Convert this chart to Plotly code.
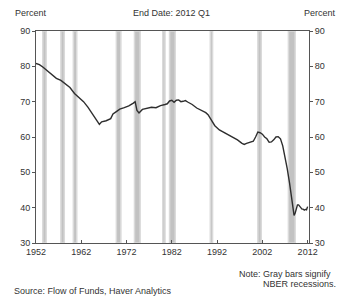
import plotly.graph_objects as go

years = [1952.0, 1952.75, 1953.5, 1954.5, 1955.5, 1956.5, 1957.5, 1958.5, 1959.5, 1960.5,
         1961.5, 1962.5, 1963.5, 1964.5, 1965.5, 1966.0, 1966.5, 1967.5, 1968.5, 1969.0,
         1969.75, 1970.5, 1971.5, 1972.5, 1973.5, 1973.9, 1974.3, 1974.75, 1975.5, 1976.5,
         1977.5, 1978.5, 1979.5, 1980.5, 1981.0, 1981.5, 1982.0, 1982.5, 1983.0, 1983.5,
         1984.0, 1984.5, 1985.0, 1985.5, 1986.5, 1987.5, 1988.5, 1989.5, 1990.0, 1990.75,
         1991.5, 1992.5, 1993.5, 1994.5, 1995.5, 1996.5, 1997.5, 1998.0, 1998.5, 1999.5,
         2000.0, 2000.5, 2001.0, 2001.5, 2002.0, 2002.5, 2003.0, 2003.5, 2004.0, 2004.5,
         2005.0, 2005.5, 2006.0, 2006.5, 2007.0, 2007.5, 2008.0, 2008.5, 2008.75, 2009.0,
         2009.25, 2009.5, 2009.75, 2010.0, 2010.25, 2010.5, 2010.75, 2011.0, 2011.25, 2011.5,
         2011.75, 2012.0]
equity = [80.8, 80.5, 79.8, 78.8, 77.6, 76.6, 76.0, 75.0, 74.0, 72.3,
          71.2, 70.0, 68.4, 66.5, 64.6, 63.6, 64.3, 64.6, 65.2, 66.5,
          67.2, 67.9, 68.3, 68.8, 69.6, 70.0, 67.5, 66.8, 67.8, 68.0,
          68.4, 68.3, 68.9, 69.2, 69.4, 70.2, 70.4, 69.8, 70.4, 70.5,
          70.0, 70.1, 70.3, 69.9, 69.2, 68.2, 67.5, 66.9, 66.3, 64.8,
          63.2, 62.0, 61.3, 60.6, 59.8, 59.2, 58.2, 57.9, 58.2, 58.5,
          58.8, 60.0, 61.4, 61.2, 60.8, 60.0, 59.5, 58.5, 58.6, 59.2,
          60.0, 60.1, 59.5, 57.5, 54.5, 51.0, 47.0, 42.0, 39.5, 37.8,
          38.5, 40.0, 40.8, 40.8, 40.3, 39.8, 39.6, 39.6, 39.3, 39.5,
          39.4, 40.3]

rec_start = [1953.5, 1957.5, 1960.25, 1969.75, 1973.75, 1980.0, 1981.5, 1990.5, 2001.0, 2007.75]
rec_end = [1954.25, 1958.25, 1961.0, 1970.75, 1975.0, 1980.5, 1982.75, 1991.0, 2001.75, 2009.25]

tick_years = [1952, 1962, 1972, 1982, 1992, 2002, 2012]
y_ticks = [30, 40, 50, 60, 70, 80, 90]

FONT = "Liberation Sans, Arial, sans-serif"

fig = go.Figure()
fig.add_trace(go.Scatter(x=years, y=equity, mode="lines",
                         line=dict(color="#2e2e2e", width=1.4), showlegend=False))
fig.add_trace(go.Scatter(x=years, y=equity, mode="lines", yaxis="y2",
                         line=dict(color="rgba(0,0,0,0)", width=0), showlegend=False,
                         hoverinfo="skip"))

for s, e in zip(rec_start, rec_end):
    fig.add_shape(type="rect", xref="x", yref="paper", x0=s, x1=e, y0=0, y1=1,
                  fillcolor="#c2c2c2", line=dict(width=1.5, color="#dadada"), layer="below")

fig.update_layout(
    width=337, height=300,
    margin=dict(l=36, r=24, t=31, b=57),
    paper_bgcolor="white", plot_bgcolor="white",
    font=dict(family=FONT, size=9, color="#333333"),
    xaxis=dict(range=[1952, 2012.3], tickvals=tick_years, ticktext=[str(t) for t in tick_years],
               showgrid=False, zeroline=False, showline=True, linecolor="#555555", linewidth=1,
               mirror=True, ticks="inside", ticklen=3, tickcolor="#555555"),
    yaxis=dict(range=[30, 90], tickvals=y_ticks, showgrid=False, zeroline=False,
               showline=True, linecolor="#555555", linewidth=1, ticks="outside",
               ticklen=3, tickcolor="#555555"),
    yaxis2=dict(range=[30, 90], tickvals=y_ticks, overlaying="y", side="right",
                showgrid=False, zeroline=False, showline=True, linecolor="#555555",
                linewidth=1, ticks="outside", ticklen=3, tickcolor="#555555"),
    annotations=[
        dict(text="Percent", xref="paper", yref="paper", x=-0.085, y=1.0, yshift=18,
             xanchor="left", yanchor="middle", showarrow=False),
        dict(text="Percent", xref="paper", yref="paper", x=0.975, y=1.0, yshift=18,
             xanchor="left", yanchor="middle", showarrow=False),
        dict(text="End Date: 2012 Q1", xref="paper", yref="paper", x=0.495, y=1.0, yshift=18,
             xanchor="center", yanchor="middle", showarrow=False),
        dict(text="Note: Gray bars signify", xref="paper", yref="paper", x=0.735, y=0, yshift=-31,
             xanchor="left", yanchor="middle", showarrow=False),
        dict(text="NBER recessions.", xref="paper", yref="paper", x=0.825, y=0, yshift=-41,
             xanchor="left", yanchor="middle", showarrow=False),
        dict(text="Source: Flow of Funds, Haver Analytics", xref="paper", yref="paper",
             x=-0.087, y=0, yshift=-48, xanchor="left", yanchor="middle", showarrow=False),
    ],
)

fig.write_html("out.html", config={"displayModeBar": False},
               post_script="document.body.style.margin='0';document.body.style.overflow='hidden';")
